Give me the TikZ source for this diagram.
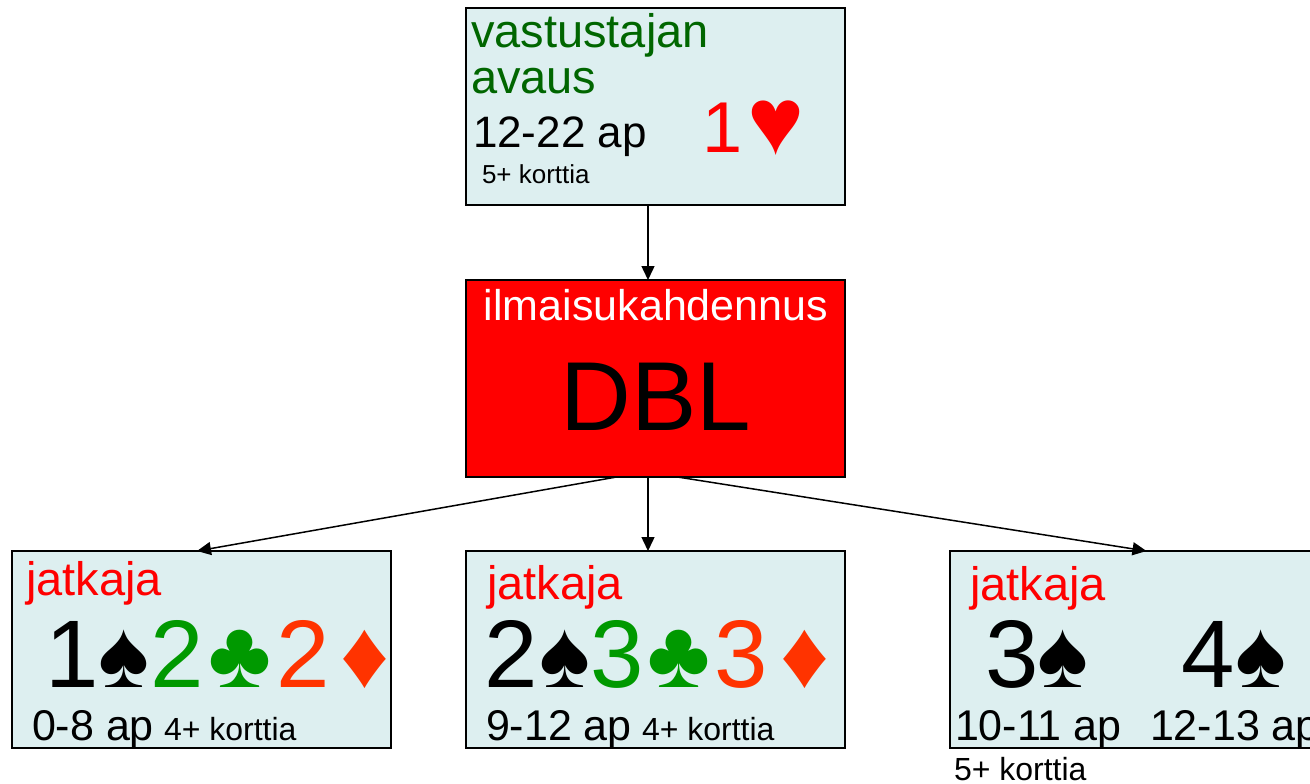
\documentclass[tikz,border=0pt]{standalone}
\usepackage{fontspec}
\setmainfont{Liberation Sans}
\usetikzlibrary{arrows.meta}
\definecolor{boxfill}{RGB}{221,239,240}
\definecolor{dkgreen}{RGB}{0,102,0}
\definecolor{clubgreen}{RGB}{0,153,0}
\definecolor{dmdred}{RGB}{255,51,0}
\definecolor{hred}{RGB}{255,0,0}
\newcommand{\fsz}[1]{\fontsize{#1}{#1}\selectfont}
\begin{document}
\begin{tikzpicture}[x=1pt,y=-1pt,
  card/.style={draw=black, line width=2pt, fill=boxfill, minimum width=379pt, minimum height=197pt, inner sep=0pt, outer sep=0pt},
  txt/.style={inner sep=0pt, outer sep=0pt, anchor=base west},
  glyph/.style={inner sep=0pt, outer sep=0pt, anchor=base},
  arr/.style={line width=1.5pt, -{Triangle[length=14pt,width=13pt]}}]
\useasboundingbox (0,0) rectangle (1310,784);
\clip (0,0) rectangle (1310,784);
% boxes
\node[card] (top) at (655.5,106.5) {};
\node[card, fill=hred] (red) at (655.5,378.5) {};
\node[card] (bl) at (201.5,649.5) {};
\node[card] (bm) at (655.5,649.5) {};
\node[card] (br) at (1139.5,649.5) {};
% arrows
\draw[arr] ([xshift=-7.5pt]top.south) -- ([xshift=-7.5pt]red.north);
\draw[arr] ([xshift=-39pt]red.south) -- ([xshift=-4.5pt]bl.north);
\draw[arr] ([xshift=-7.5pt]red.south) -- ([xshift=-7.5pt]bm.north);
\draw[arr] ([xshift=22pt]red.south) -- ([xshift=7pt]br.north);
% top box
\node[txt, text=dkgreen, font=\fsz{47}] (t1) at (471,48) {vastustajan};
\node[txt, text=dkgreen, font=\fsz{47}] (t2) at (471,93) {avaus};
\node[txt, font=\fsz{44}] (t3) at (473,147) {12-22 ap};
\node[glyph, text=hred, font=\fsz{72}] (t4) at (722.5,152) {1};
\node[glyph, text=hred, font=\fsz{96}] (t5) at (776,154) {♥};
\node[txt, font=\fsz{26}] (t6) at (482,183) {5+ korttia};
% red box
\node[glyph, text=white, font=\fsz{43}] (r1) at (656,320) {ilmaisukahdennus};
\node[glyph, text=black, font=\fsz{98}] (r2) at (656,430) {DBL};
% bottom left
\node[txt, text=hred, font=\fsz{47}] (l1) at (26,595) {jatkaja};
\node[glyph, font=\fsz{96}] (l2) at (72,687) {1};
\node[glyph, font=\fsz{96}] (l3) at (124,687) {♠};
\node[glyph, text=clubgreen, font=\fsz{96}] (l4) at (177,687) {2};
\node[glyph, text=clubgreen, font=\fsz{96}] (l5) at (240,687) {♣};
\node[glyph, text=dmdred, font=\fsz{96}] (l6) at (303,687) {2};
\node[glyph, text=dmdred, font=\fsz{96}] (l7) at (365,687) {♦};
\node[txt, font=\fsz{43}] (l8) at (32,740) {0-8 ap};
\node[txt, font=\fsz{32}] (l9) at (164,740) {4+ korttia};
% bottom middle
\node[txt, text=hred, font=\fsz{47}] (m1) at (487,599) {jatkaja};
\node[glyph, font=\fsz{96}] (m2) at (511,687) {2};
\node[glyph, font=\fsz{96}] (m3) at (565,687) {♠};
\node[glyph, text=clubgreen, font=\fsz{96}] (m4) at (617,687) {3};
\node[glyph, text=clubgreen, font=\fsz{96}] (m5) at (679,687) {♣};
\node[glyph, text=dmdred, font=\fsz{96}] (m6) at (741,687) {3};
\node[glyph, text=dmdred, font=\fsz{96}] (m7) at (805,687) {♦};
\node[txt, font=\fsz{43}] (m8) at (486,740) {9-12 ap};
\node[txt, font=\fsz{32}] (m9) at (642,740) {4+ korttia};
% bottom right
\node[txt, text=hred, font=\fsz{47}] (q1) at (970,600) {jatkaja};
\node[glyph, font=\fsz{96}] (q2) at (1012,687) {3};
\node[glyph, font=\fsz{96}] (q3) at (1063,687) {♠};
\node[glyph, font=\fsz{96}] (q4) at (1208,687) {4};
\node[glyph, font=\fsz{96}] (q5) at (1261,687) {♠};
\node[txt, font=\fsz{43}] (q6) at (955,740) {10-11 ap};
\node[txt, font=\fsz{43}] (q7) at (1150,740) {12-13 ap};
\node[txt, font=\fsz{32}] (q8) at (954,780) {5+ korttia};
\end{tikzpicture}
\end{document}
